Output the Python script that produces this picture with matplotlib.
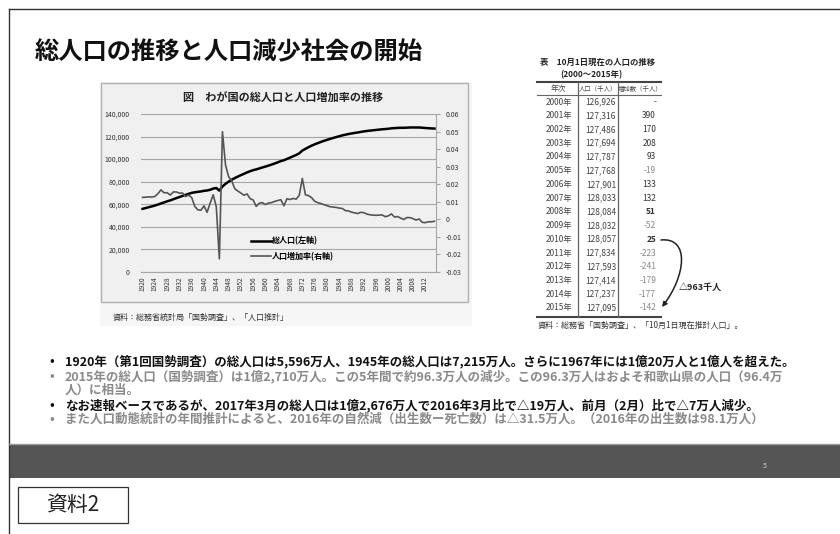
import numpy as np
import matplotlib.pyplot as plt
from matplotlib.patches import Rectangle, FancyArrowPatch
from matplotlib.path import Path
from matplotlib.ticker import FuncFormatter

plt.rcParams['font.family'] = ['Noto Sans CJK JP', 'DejaVu Sans']

W, H = 840, 534

# 総人口（千人）と人口増加率, 1920-2015
years = list(range(1920, 2016))
population = [
    55963, 56666, 57390, 58119, 58876, 59737, 60741, 61659, 62595, 63461,
    64450, 65457, 66434, 67432, 68309, 69254, 70114, 70630, 71013, 71380,
    71933, 72218, 72880, 73903, 74433, 72147, 75750, 78101, 80002, 81773,
    83200, 84541, 85808, 86981, 88239, 89276, 90259, 90928, 91767, 92641,
    93419, 94287, 95181, 96156, 97182, 98275, 99036, 100196, 101331, 102536,
    103720, 105145, 107595, 109104, 110573, 111940, 113094, 114165, 115190, 116155,
    117060, 117902, 118728, 119536, 120305, 121049, 121660, 122239, 122745, 123205,
    123611, 124101, 124567, 124938, 125265, 125570, 125859, 126157, 126472, 126667,
    126926, 127316, 127486, 127694, 127787, 127768, 127901, 128033, 128084, 128032,
    128057, 127834, 127593, 127414, 127237, 127095,
]
growth_rate = [
    0.0125, 0.0126, 0.0128, 0.0127, 0.0130, 0.0146, 0.0168, 0.0151, 0.0152, 0.0138,
    0.0156, 0.0156, 0.0149, 0.0150, 0.0130, 0.0138, 0.0124, 0.0074, 0.0054, 0.0052,
    0.0077, 0.0040, 0.0092, 0.0140, 0.0072, -0.0225, 0.0499, 0.0310, 0.0243, 0.0221,
    0.0175, 0.0161, 0.0150, 0.0137, 0.0145, 0.0118, 0.0110, 0.0074, 0.0092, 0.0095,
    0.0084, 0.0093, 0.0095, 0.0102, 0.0107, 0.0112, 0.0077, 0.0117, 0.0113, 0.0119,
    0.0115, 0.0137, 0.0233, 0.0140, 0.0135, 0.0124, 0.0103, 0.0095, 0.0090, 0.0084,
    0.0078, 0.0072, 0.0070, 0.0068, 0.0064, 0.0062, 0.0050, 0.0048, 0.0041, 0.0037,
    0.0033, 0.0040, 0.0038, 0.0030, 0.0026, 0.0024, 0.0023, 0.0024, 0.0025, 0.0015,
    0.0020, 0.0031, 0.0013, 0.0016, 0.0007, -0.0001, 0.0010, 0.0010, 0.0004, -0.0004,
    0.0002, -0.0017, -0.0019, -0.0014, -0.0014, -0.0011,
]

# 表：10月1日現在の人口の推移
table_years = list(range(2000, 2016))
table_pop = [126926, 127316, 127486, 127694, 127787, 127768, 127901, 128033,
             128084, 128032, 128057, 127834, 127593, 127414, 127237, 127095]
table_change = [None, 390, 170, 208, 93, -19, 133, 132, 51, -52, 25, -223,
                -241, -179, -177, -142]

title = '総人口の推移と人口減少社会の開始'
chart_title = '図　わが国の総人口と人口増加率の推移'
bullets = [
    ('1920年（第1回国勢調査）の総人口は5,596万人、1945年の総人口は7,215万人。さらに1967年には1億20万人と1億人を超えた。', '#111111', True),
    ('2015年の総人口（国勢調査）は1億2,710万人。この5年間で約96.3万人の減少。この96.3万人はおよそ和歌山県の人口（96.4万', '#8a8a8a', True),
    ('人）に相当。', '#8a8a8a', False),
    ('なお速報ベースであるが、2017年3月の総人口は1億2,676万人で2016年3月比で△19万人、前月（2月）比で△7万人減少。', '#111111', True),
    ('また人口動態統計の年間推計によると、2016年の自然減（出生数ー死亡数）は△31.5万人。（2016年の出生数は98.1万人）', '#8a8a8a', True),
]


def box(x0, y0, x1, y1):
    return [x0 / W, 1 - y1 / H, (x1 - x0) / W, (y1 - y0) / H]


fig = plt.figure(figsize=(8.4, 5.34), dpi=100)
fig.patch.set_facecolor('white')

# pixel-coordinate layer for the slide itself
ov = fig.add_axes([0, 0, 1, 1])
ov.set_xlim(0, W)
ov.set_ylim(H, 0)
ov.axis('off')

ov.plot([9, 9], [9, H], color='#333333', lw=1)
ov.plot([9, W], [9, 9], color='#333333', lw=1)
ov.text(35, 52, title, fontsize=17.5, weight='bold', va='center', ha='left', color='#111111')

# chart picture background
ov.add_patch(Rectangle((100, 82), 372, 244, facecolor='#f6f6f6', edgecolor='none'))
ov.add_patch(Rectangle((101, 83), 367, 219, facecolor='#f0f0f0', edgecolor='#b0b0b0', lw=1))
ov.text(283, 98, chart_title, fontsize=8, weight='bold', ha='center', va='center', color='#222222')
ov.text(113, 317, '資料：総務省統計局「国勢調査」、「人口推計」', fontsize=5.8, va='center', color='#333333')

# table
ov.text(540, 62, '表　10月1日現在の人口の推移', fontsize=6, weight='bold', va='center', color='#222222')
ov.text(560, 75, '(2000～2015年)', fontsize=6, weight='bold', va='center', color='#222222')
ov.plot([537, 661], [82, 82], color='#444444', lw=1.5)
ov.plot([537, 661], [95, 95], color='#666666', lw=0.8)
ov.plot([537, 661], [317, 317], color='#444444', lw=1.5)
ov.plot([578, 578], [82, 317], color='#666666', lw=0.9)
ov.plot([618, 618], [82, 317], color='#666666', lw=0.9)
ov.text(558, 89, '年次', fontsize=5.6, ha='center', va='center', color='#444444')
ov.text(598, 89, '人口（千人）', fontsize=4.6, ha='center', va='center', color='#444444')
ov.text(640.5, 89, '増加数（千人）', fontsize=4.6, ha='center', va='center', color='#444444')

row_y0, row_dy = 102, 13.73
for i, (yr, p, c) in enumerate(zip(table_years, table_pop, table_change)):
    y = row_y0 + i * row_dy
    ov.text(559, y, f'{yr}年', fontsize=6, ha='center', va='center', color='#444444')
    ov.text(616, y, f'{p:,}', fontsize=6, ha='right', va='center', color='#444444')
    if c is None:
        ov.text(656, y, '-', fontsize=6, ha='right', va='center', color='#444444')
    else:
        col = '#888888' if c < 0 else '#333333'
        w = 'bold' if c in (51, 25) else 'normal'
        ov.text(656, y, f'{c}', fontsize=6, ha='right', va='center', color=col, weight=w)

arrow_path = Path([(661, 240), (690, 237), (686, 276), (662, 307)],
                  [Path.MOVETO, Path.CURVE4, Path.CURVE4, Path.CURVE4])
ov.add_patch(FancyArrowPatch(path=arrow_path, arrowstyle='-|>', mutation_scale=7,
                             color='#222222', lw=1.1))
ov.text(679, 287, '△963千人', fontsize=6.5, weight='bold', va='center', color='#222222')
ov.text(538, 325, '資料：総務省「国勢調査」、「10月1日現在推計人口」。', fontsize=5.8, va='center', color='#333333')

# bullet text
line_y = [361, 376, 390, 405, 419]
for (txt, col, dot), y in zip(bullets, line_y):
    if dot:
        ov.text(52, y, '•', fontsize=10, ha='center', va='center', color=col)
    ov.text(65, y, txt, fontsize=9, weight='bold', va='center', color=col)

# footer band
ov.add_patch(Rectangle((9, 444), W - 9, 34, facecolor='#555555', edgecolor='none'))
ov.plot([9, W], [444, 444], color='#9a9a9a', lw=1)
ov.text(765, 466, '5', fontsize=5, color='#d0d0d0', ha='center', va='center')
ov.add_patch(Rectangle((18, 487), 110, 36, facecolor='white', edgecolor='#333333', lw=0.9))
ov.text(73, 505, '資料2', fontsize=15, ha='center', va='center', color='#222222')

# population chart
ax = fig.add_axes(box(141, 114, 436, 272))
ax.patch.set_alpha(0)
ax2 = ax.twinx()

l1, = ax.plot(years, population, color='black', lw=1.8, label='総人口(左軸)')
l2, = ax2.plot(years, growth_rate, color='#555555', lw=1.2, label='人口増加率(右軸)')

ax.set_xlim(1919.5, 2015.5)
ax.set_xticks(years[::4])
ax.set_xticklabels([str(y) for y in years[::4]], rotation=90, fontsize=4.8, color='#333333')
ax.set_ylim(0, 140000)
ax.set_yticks(range(0, 140001, 20000))
ax.yaxis.set_major_formatter(FuncFormatter(lambda v, p: f'{int(v):,}'))
ax.grid(axis='y', color='#a6a6a6', lw=0.8)
ax.set_axisbelow(True)
ax.tick_params(axis='y', length=0, pad=8, labelsize=5, labelcolor='#333333')
ax.tick_params(axis='x', length=0, pad=3)
for s in ['left', 'top', 'right']:
    ax.spines[s].set_visible(False)
ax.spines['bottom'].set_color('#a6a6a6')

ax2.set_ylim(-0.03, 0.06)
rate_ticks = [-0.03, -0.02, -0.01, 0, 0.01, 0.02, 0.03, 0.04, 0.05, 0.06]
ax2.set_yticks(rate_ticks)
ax2.set_yticklabels(['-0.03', '-0.02', '-0.01', '0', '0.01', '0.02', '0.03', '0.04', '0.05', '0.06'])
ax2.tick_params(axis='y', length=3, color='#a6a6a6', labelsize=5, labelcolor='#333333', pad=4)
for s in ['left', 'top', 'bottom']:
    ax2.spines[s].set_visible(False)
ax2.spines['right'].set_color('#a6a6a6')

ax2.legend([l1, l2], [l1.get_label(), l2.get_label()], loc='upper left',
           bbox_to_anchor=(0.35, 0.27), frameon=False, handlelength=2.4,
           handletextpad=0.1, labelspacing=0.8,
           prop={'size': 5.8, 'weight': 'bold'})

fig.savefig('out.png', dpi=100)
